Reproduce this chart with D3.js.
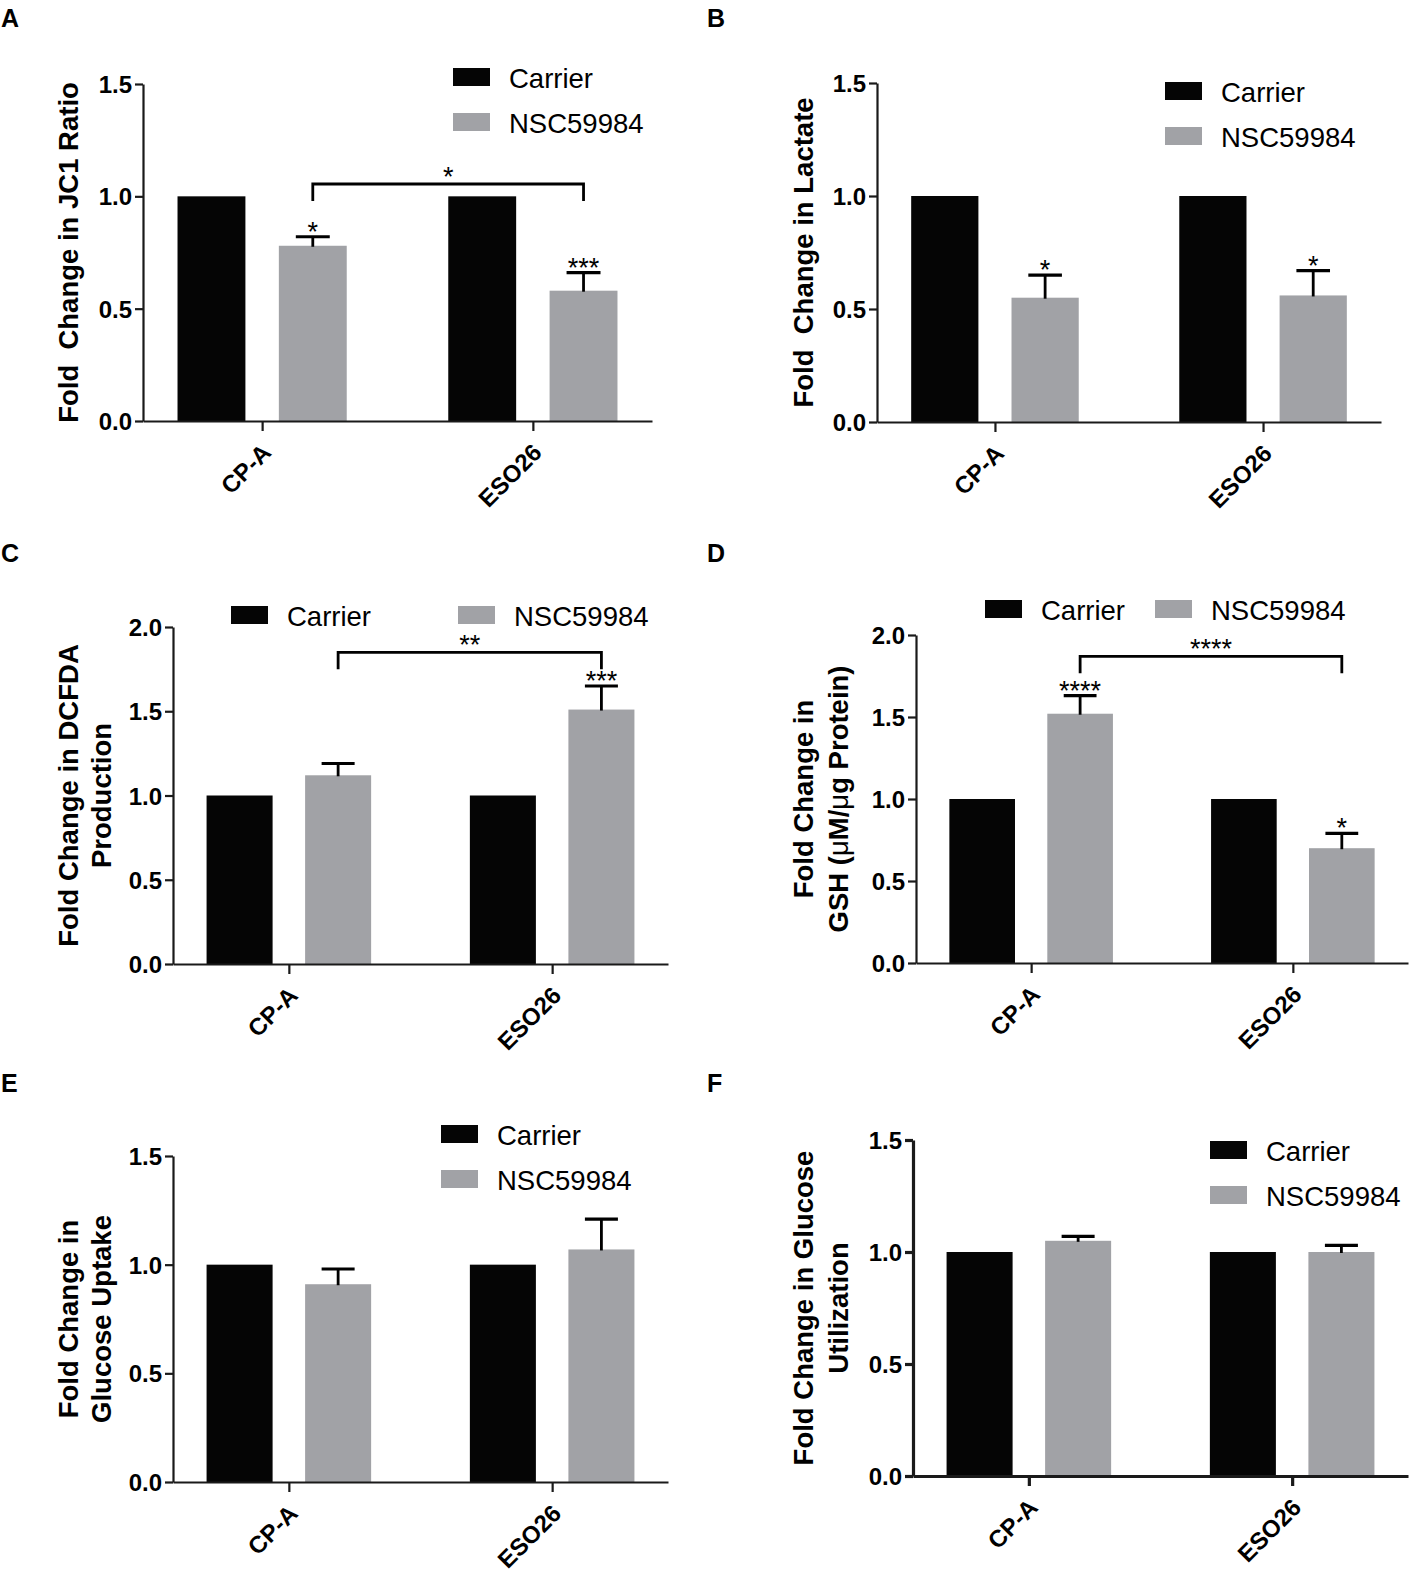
<!DOCTYPE html>
<html>
<head>
<meta charset="utf-8">
<script src="https://cdn.jsdelivr.net/npm/d3@7"></script>
<style>
  body { margin: 0; background: #fff; }
  svg { display: block; font-family: "Liberation Sans", Arial, Helvetica, sans-serif; }
  .tick text { font-weight: bold; }
</style>
</head>
<body>
<svg id="fig" width="1416" height="1575"></svg>
<script>
// ---- data ----
var groups = ["CP-A", "ESO26"];
var seriesNames = ["Carrier", "NSC59984"];
var carrierFold = [1.0, 1.0];

var jc1Nsc = [0.78, 0.58];
var jc1Sem = [0.04, 0.08];
var jc1Stars = ["*", "***"];

var lactateNsc = [0.55, 0.56];
var lactateSem = [0.10, 0.11];
var lactateStars = ["*", "*"];

var dcfdaNsc = [1.12, 1.51];
var dcfdaSem = [0.07, 0.14];
var dcfdaStars = ["", "***"];

var gshNsc = [1.52, 0.70];
var gshSem = [0.11, 0.09];
var gshStars = ["****", "*"];

var uptakeNsc = [0.91, 1.07];
var uptakeSem = [0.07, 0.14];
var uptakeStars = ["", ""];

var utilNsc = [1.05, 1.00];
var utilSem = [0.02, 0.03];
var utilStars = ["", ""];

var ticks15 = [0, 0.5, 1.0, 1.5];
var ticks20 = [0, 0.5, 1.0, 1.5, 2.0];

// NSC CP-A vs NSC ESO26 comparison brackets
var jc1Bracket = { level: 1.055, label: "*" };
var dcfdaBracket = { level: 1.85, label: "**" };
var gshBracket = { level: 1.87, label: "****" };

var barColors = ["#050505", "#a1a2a6"];
var inkColor = "#1a1a1a";

// ---- layout per panel ----
var panels = [
    { letter: "A", lx: 1, ly: 27, x0: 143, x1: 652, y0: 421, y1: 84, max: 1.5, ticks: ticks15,
      nsc: jc1Nsc, sem: jc1Sem, stars: jc1Stars, bracket: jc1Bracket,
      title: ["Fold  Change in JC1 Ratio"], titleOff: [-65],
      legend: { x: 453, y: 68, dx: 0, dy: 45 } },
    { letter: "B", lx: 707, ly: 27, x0: 877, x1: 1381, y0: 422, y1: 83, max: 1.5, ticks: ticks15,
      nsc: lactateNsc, sem: lactateSem, stars: lactateStars, bracket: null,
      title: ["Fold  Change in Lactate"], titleOff: [-64],
      legend: { x: 1165, y: 82, dx: 0, dy: 45 } },
    { letter: "C", lx: 1, ly: 562, x0: 173, x1: 668, y0: 964, y1: 627, max: 2.0, ticks: ticks20,
      nsc: dcfdaNsc, sem: dcfdaSem, stars: dcfdaStars, bracket: dcfdaBracket,
      title: ["Fold Change in DCFDA", "Production"], titleOff: [-95, -62],
      legend: { x: 231, y: 606, dx: 227, dy: 0 } },
    { letter: "D", lx: 707, ly: 562, x0: 916, x1: 1408, y0: 963, y1: 635, max: 2.0, ticks: ticks20,
      nsc: gshNsc, sem: gshSem, stars: gshStars, bracket: gshBracket,
      title: ["Fold Change in", "GSH (\u03bcM/\u03bcg Protein)"], titleOff: [-103, -68],
      legend: { x: 985, y: 600, dx: 170, dy: 0 } },
    { letter: "E", lx: 1, ly: 1092, x0: 173, x1: 668, y0: 1482, y1: 1156, max: 1.5, ticks: ticks15,
      nsc: uptakeNsc, sem: uptakeSem, stars: uptakeStars, bracket: null,
      title: ["Fold Change in", "Glucose Uptake"], titleOff: [-95, -62],
      legend: { x: 441, y: 1125, dx: 0, dy: 45 } },
    { letter: "F", lx: 707, ly: 1092, x0: 913, x1: 1408, y0: 1476, y1: 1140, max: 1.5, ticks: ticks15,
      nsc: utilNsc, sem: utilSem, stars: utilStars, bracket: null, heavy: true,
      title: ["Fold Change in Glucose", "Utilization"], titleOff: [-100, -65],
      legend: { x: 1210, y: 1141, dx: 0, dy: 45 } }
];

var svg = d3.select('#fig');

panels.forEach(function(p) {
    var g = svg.append('g');
    var axisWidth = p.heavy ? 3.2 : 2.2;

    var x = d3.scalePoint().domain(groups).range([p.x0, p.x1]).padding(0.44);
    var step = x.step();
    var groupW = step * 0.625;
    var inner = d3.scaleBand().domain(seriesNames).range([-groupW / 2, groupW / 2]).paddingInner(0.33);
    var y = d3.scaleLinear().domain([0, p.max]).range([p.y0, p.y1]);

    var rows = groups.map(function(grp, i) {
        return { group: grp, values: [carrierFold[i], p.nsc[i]], sem: [0, p.sem[i]], star: p.stars[i] };
    });

    // bars
    rows.forEach(function(r) {
        seriesNames.forEach(function(s, j) {
            g.append('rect')
                .attr('x', x(r.group) + inner(s))
                .attr('y', y(r.values[j]))
                .attr('width', inner.bandwidth())
                .attr('height', p.y0 - y(r.values[j]))
                .style('fill', barColors[j]);
        });
    });

    // error bars (upper only) + stars
    rows.forEach(function(r) {
        var s = seriesNames[1];
        if (r.sem[1] <= 0) return;
        var cx = x(r.group) + inner(s) + inner.bandwidth() / 2;
        var top = y(r.values[1] + r.sem[1]);
        var capW = inner.bandwidth() / 2;
        g.append('line')
            .attr('x1', cx).attr('x2', cx)
            .attr('y1', y(r.values[1]) + 1).attr('y2', top)
            .style('stroke', '#000').style('stroke-width', 2.8);
        g.append('line')
            .attr('x1', cx - capW / 2).attr('x2', cx + capW / 2)
            .attr('y1', top).attr('y2', top)
            .style('stroke', '#000').style('stroke-width', 3.2);
        if (r.star) {
            g.append('text')
                .attr('x', cx).attr('y', top + 4)
                .text(r.star)
                .style('font-size', '27px')
                .style('text-anchor', 'middle');
        }
    });

    // comparison bracket
    if (p.bracket) {
        var bx0 = x(groups[0]) + inner(seriesNames[1]) + inner.bandwidth() / 2;
        var bx1 = x(groups[1]) + inner(seriesNames[1]) + inner.bandwidth() / 2;
        var by = y(p.bracket.level);
        g.append('path')
            .attr('d', 'M' + bx0 + ' ' + (by + 17) + ' V ' + by + ' H ' + bx1 + ' V ' + (by + 17))
            .style('fill', 'none')
            .style('stroke', '#000')
            .style('stroke-width', 2.8);
        g.append('text')
            .attr('x', (bx0 + bx1) / 2).attr('y', by + 2)
            .text(p.bracket.label)
            .style('font-size', '27px')
            .style('text-anchor', 'middle');
    }

    // y axis
    var yAxis = g.append('g')
        .attr('transform', 'translate(' + p.x0 + ',0)')
        .call(d3.axisLeft(y).tickValues(p.ticks).tickFormat(d3.format('.1f')).tickSize(8).tickSizeOuter(0).tickPadding(3));
    yAxis.selectAll('path, line').style('stroke', inkColor).style('stroke-width', axisWidth);
    yAxis.selectAll('text')
        .style('font-size', '24px')
        .style('font-family', '"Liberation Sans", Arial, sans-serif')
        .style('fill', '#000')
        .attr('dy', '0.36em');

    // x axis
    var xAxis = g.append('g')
        .attr('transform', 'translate(0,' + p.y0 + ')')
        .call(d3.axisBottom(x).tickSize(10).tickSizeOuter(0).tickPadding(0));
    xAxis.selectAll('path, line').style('stroke', inkColor).style('stroke-width', axisWidth);
    xAxis.selectAll('text')
        .style('font-size', '24px')
        .style('font-family', '"Liberation Sans", Arial, sans-serif')
        .style('fill', '#000')
        .style('text-anchor', 'end')
        .attr('y', 0)
        .attr('dy', '0.35em')
        .attr('transform', 'translate(4,27) rotate(-45)');

    // y title
    var cy = (p.y0 + p.y1) / 2;
    p.title.forEach(function(line, k) {
        var t = g.append('text')
            .attr('transform', 'translate(' + (p.x0 + p.titleOff[k]) + ',' + cy + ') rotate(-90)')
            .style('font-size', '27.5px')
            .style('font-weight', 'bold')
            .style('text-anchor', 'middle')
            .style('white-space', 'pre')
            .attr('xml:space', 'preserve');
        // mu signs in a lighter weight, like the original symbol font
        line.split(/(\u03bc)/).forEach(function(part) {
            if (!part) return;
            t.append('tspan')
                .text(part)
                .style('font-weight', part === '\u03bc' ? 'normal' : 'bold');
        });
    });

    // legend
    seriesNames.forEach(function(s, j) {
        var lx = p.legend.x + p.legend.dx * j;
        var ly = p.legend.y + p.legend.dy * j;
        g.append('rect')
            .attr('x', lx).attr('y', ly)
            .attr('width', 37).attr('height', 18)
            .style('fill', barColors[j]);
        g.append('text')
            .attr('x', lx + 56).attr('y', ly + 20)
            .text(s)
            .style('font-size', '27.5px');
    });

    // panel letter
    g.append('text')
        .attr('x', p.lx).attr('y', p.ly)
        .text(p.letter)
        .style('font-size', '25px')
        .style('font-weight', 'bold');
});
</script>
</body>
</html>
